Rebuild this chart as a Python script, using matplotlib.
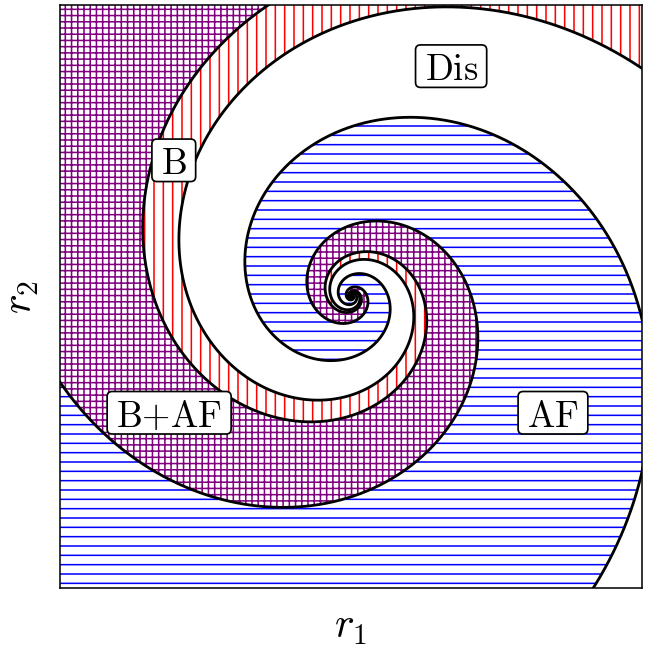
import numpy as np
import matplotlib
matplotlib.use('Agg')
import matplotlib.pyplot as plt
from matplotlib.patches import Polygon, FancyBboxPatch

plt.rcParams['mathtext.fontset'] = 'cm'
plt.rcParams['hatch.linewidth'] = 1.0

DPI = 112

# SPIRAL MODEL (data units: axes span -1..1)
# every phase boundary is a log spiral ln r = logr0 - GROWTH*theta,
# so r grows when going clockwise round the centre
CX, CY = 0.003, 0.0
GROWTH = 0.327
PERIOD = 2 * np.pi * GROWTH  # ln r gained per full turn

boundary_names = ['A', 'C', 'D', 'B']
boundary_logr0 = [-2.08, -1.60, -1.41, -0.89]

# phases are the bands between two boundaries (inner -> outer)
phase_names = ['B', 'B+AF', 'AF']
phase_inner = ['C', 'D', 'B']
phase_outer = ['D', 'B', 'A']
phase_hatch = ['||', '+++', '--']
phase_colors = ['red', 'purple', 'blue']

# text boxes (x = centre, y = baseline)
label_text = [r'$\mathrm{Dis}$', r'$\mathrm{B}$', r'$\mathrm{B{+}AF}$', r'$\mathrm{AF}$']
label_x = [0.344, -0.609, -0.625, 0.694]
label_y = [0.743, 0.420, -0.446, -0.446]

# box geometry in pixels
BOX_PADX = 9
BOX_ABOVE = 35
BOX_BELOW = 7.5
BOX_ROUND = 5

theta = np.linspace(-12, 32, 9000)


def spiral(logr0):
    r = np.exp(logr0 - GROWTH * theta)
    return CX + r * np.cos(theta), CY + r * np.sin(theta)


def main():
    fig = plt.figure(figsize=(646.01 / DPI, 648.01 / DPI), dpi=DPI)
    ax = fig.add_axes([60 / 646, 1 - 588 / 648, 582 / 646, 583 / 648])
    ax.set_xlim(-1, 1)
    ax.set_ylim(-1, 1)
    logr = dict(zip(boundary_names, boundary_logr0))

    # hatched phase bands
    for name, lo, hi, hatch, color in zip(phase_names, phase_inner, phase_outer,
                                          phase_hatch, phase_colors):
        l_lo = logr[lo]
        l_hi = logr[hi]
        if l_hi <= l_lo:
            l_hi += PERIOD
        xi, yi = spiral(l_lo)
        xo, yo = spiral(l_hi)
        verts = np.column_stack([np.r_[xi, xo[::-1]], np.r_[yi, yo[::-1]]])
        patch = Polygon(verts, closed=True, facecolor='none', edgecolor=color,
                        linewidth=0, hatch=hatch, zorder=1, label=name)
        ax.add_patch(patch)

    # boundaries
    for name in boundary_names:
        x, y = spiral(logr[name])
        ax.plot(x, y, color='black', lw=1.8, zorder=3)

    texts = []
    for txt, x, y in zip(label_text, label_x, label_y):
        t = ax.text(x, y, txt, fontsize=23.5, ha='center', va='baseline', zorder=6)
        texts.append(t)

    ax.set_xticks([])
    ax.set_yticks([])
    for sp in ax.spines.values():
        sp.set_linewidth(1.0)

    ax.set_xlabel(r'$r_1$', fontsize=27, family='cmr10')
    ax.xaxis.label.set_va('baseline')
    ax.xaxis.set_label_coords(0.5, -0.0858)
    ax.set_ylabel(r'$r_2$', fontsize=27, family='cmr10')
    ax.yaxis.label.set_va('baseline')
    ax.yaxis.set_label_coords(-0.048, 0.5)

    # white rounded boxes sized from the rendered text
    fig.canvas.draw()
    renderer = fig.canvas.get_renderer()
    inv = ax.transData.inverted()
    for t, x, y in zip(texts, label_x, label_y):
        bb = t.get_window_extent(renderer)
        yb = ax.transData.transform((x, y))[1]
        x0, y0 = inv.transform((bb.x0 - BOX_PADX, yb - BOX_BELOW))
        x1, y1 = inv.transform((bb.x1 + BOX_PADX, yb + BOX_ABOVE))
        rs = BOX_ROUND / 291.0
        box = FancyBboxPatch((x0, y0), x1 - x0, y1 - y0,
                             boxstyle=f'round,pad=0,rounding_size={rs}',
                             fc='white', ec='black', lw=1.1, zorder=5)
        ax.add_patch(box)

    fig.savefig('out.png', dpi=DPI)
    plt.close(fig)


if __name__ == "__main__":
    main()
